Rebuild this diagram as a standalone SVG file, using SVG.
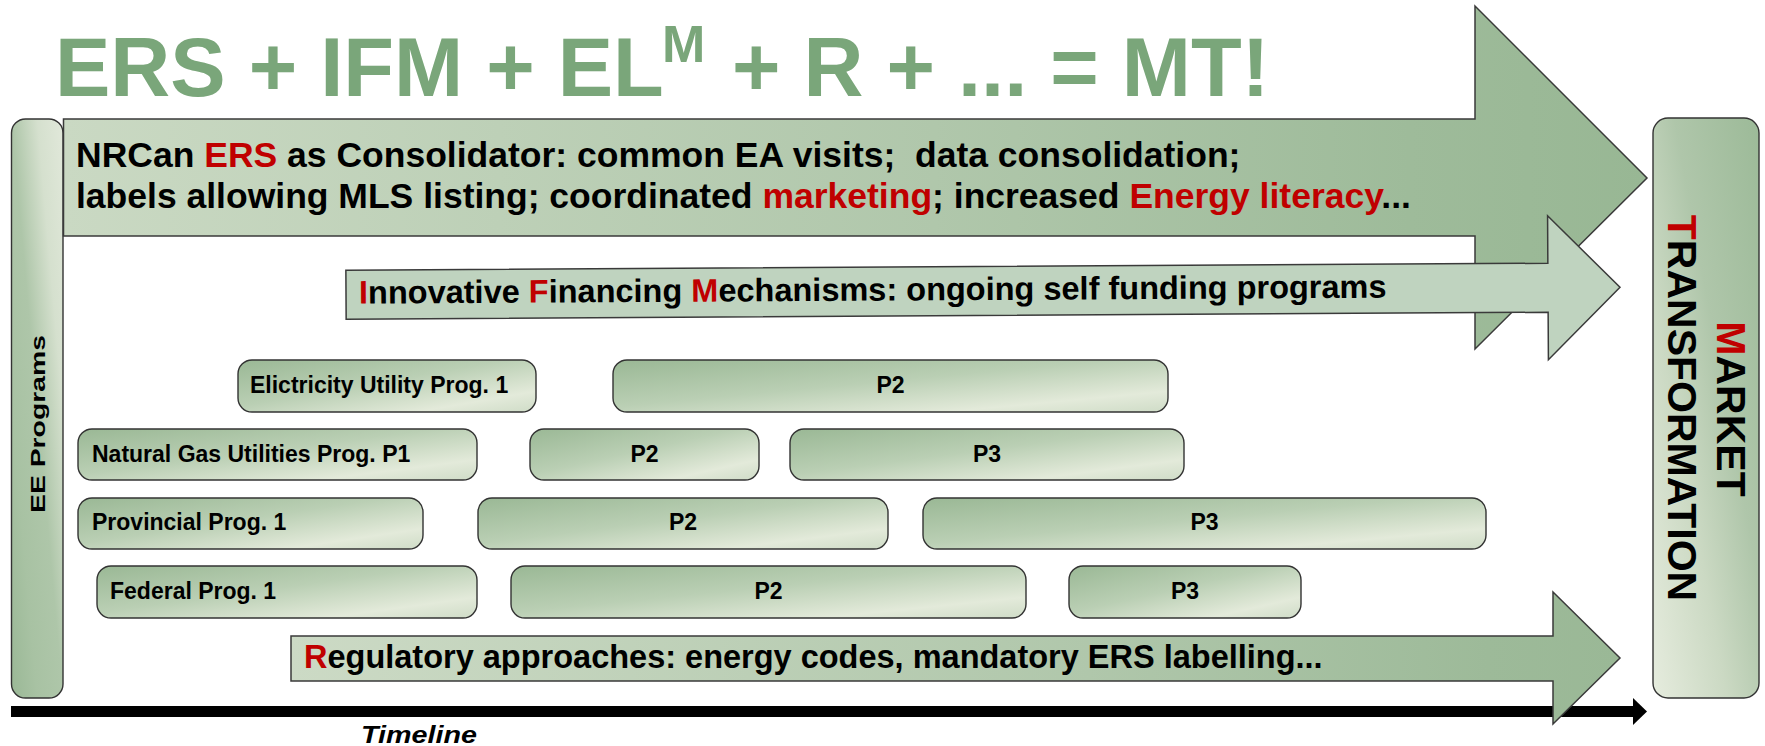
<svg xmlns="http://www.w3.org/2000/svg" width="1765" height="746" viewBox="0 0 1765 746">
  <defs>
    <linearGradient id="gBig" x1="0" y1="0" x2="1" y2="0">
      <stop offset="0" stop-color="#cad9c3"/>
      <stop offset="0.55" stop-color="#b0c7ab"/>
      <stop offset="0.85" stop-color="#9ebb9a"/>
      <stop offset="1" stop-color="#98b794"/>
    </linearGradient>
    <linearGradient id="gReg" x1="0" y1="0" x2="1" y2="0">
      <stop offset="0" stop-color="#ccdac5"/>
      <stop offset="0.6" stop-color="#b0c7ab"/>
      <stop offset="0.9" stop-color="#9dba99"/>
      <stop offset="1" stop-color="#9ab896"/>
    </linearGradient>
    <linearGradient id="gBox" x1="0" y1="0" x2="1" y2="1">
      <stop offset="0" stop-color="#9ab895"/>
      <stop offset="0.45" stop-color="#bacfb4"/>
      <stop offset="0.8" stop-color="#e3eada"/>
      <stop offset="1" stop-color="#cfdcc7"/>
    </linearGradient>
    <linearGradient id="gSide" x1="0" y1="1" x2="1" y2="0">
      <stop offset="0" stop-color="#9ab896"/>
      <stop offset="0.25" stop-color="#a8c2a3"/>
      <stop offset="0.5" stop-color="#aec6a9"/>
      <stop offset="0.75" stop-color="#d5e0ce"/>
      <stop offset="1" stop-color="#e1e8da"/>
    </linearGradient>
    <linearGradient id="gMarket" x1="0" y1="1" x2="1" y2="0">
      <stop offset="0" stop-color="#e6ecde"/>
      <stop offset="0.35" stop-color="#cbd9c3"/>
      <stop offset="0.6" stop-color="#afc6aa"/>
      <stop offset="1" stop-color="#9cba98"/>
    </linearGradient>
  </defs>
  <style>
    text { font-family: "Liberation Sans", Arial, Helvetica, sans-serif; font-weight: bold; fill: #000; }
    .title { fill: #7aa67a; font-size: 83px; }
    .red { fill: #c00000; }
    .lbl { font-size: 23px; }
    .mid { text-anchor: middle; }
    .box { fill: url(#gBox); stroke: #333; stroke-width: 1.4; }
    .arrow { stroke: #3a3a3a; stroke-width: 1.5; stroke-linejoin: miter; }
  </style>

  <!-- headline formula -->
  <g id="title">
    <text class="title" x="55" y="96">ERS + IFM + EL</text>
    <text class="title" x="662" y="62" style="font-size:52px">M</text>
    <text class="title" x="732" y="96">+ R + ... = MT!</text>
  </g>

  <!-- left side bar -->
  <g id="ee-programs">
    <rect x="11.5" y="119" width="51.5" height="579" rx="14" fill="url(#gSide)" stroke="#333" stroke-width="1.4"/>
    <text transform="translate(45,424) rotate(-90)" class="mid" style="font-size:20px" textLength="178" lengthAdjust="spacingAndGlyphs">EE Programs</text>
  </g>

  <!-- right side target -->
  <g id="market-transformation">
    <rect x="1653" y="118" width="106" height="580" rx="15" fill="url(#gMarket)" stroke="#333" stroke-width="1.4"/>
    <text transform="translate(1717,409) rotate(90)" class="mid" style="font-size:41px"><tspan class="red">M</tspan>ARKET</text>
    <text transform="translate(1668,408) rotate(90)" class="mid" style="font-size:41px"><tspan class="red">T</tspan>RANSFORMATION</text>
  </g>

  <!-- timeline axis -->
  <g id="timeline">
    <rect x="11" y="706" width="1622" height="11" fill="#000"/>
    <polygon points="1633,698 1647,711.5 1633,725" fill="#000"/>
    <text x="361" y="743" style="font-size:24px;font-style:italic" textLength="116" lengthAdjust="spacingAndGlyphs">Timeline</text>
  </g>

  <!-- broad arrows -->
  <g id="connectors">
    <g id="arrow-ers">
      <polygon class="arrow" fill="url(#gBig)" points="63.5,119 1475,119 1475,6 1647,178 1475,349 1475,236 63.5,236"/>
      <text x="76" y="167" style="font-size:35.5px" xml:space="preserve">NRCan <tspan class="red">ERS</tspan> as Consolidator: common EA visits;  data consolidation;</text>
      <text x="76" y="208" style="font-size:35.5px">labels allowing MLS listing; coordinated <tspan class="red">marketing</tspan>; increased <tspan class="red">Energy literacy</tspan>...</text>
    </g>
    <g id="arrow-ifm" transform="rotate(-0.33 983 291)">
      <polygon class="arrow" fill="#bfd3bf" points="346,266.5 1548,266.5 1548,219 1620,291 1548,363 1548,315.5 346,315.5"/>
      <text x="359" y="300" style="font-size:32.5px"><tspan class="red">I</tspan>nnovative <tspan class="red">F</tspan>inancing <tspan class="red">M</tspan>echanisms: ongoing self funding programs</text>
    </g>
    <g id="arrow-reg">
      <polygon class="arrow" fill="url(#gReg)" points="291,636 1553,636 1553,592 1620,658 1553,724 1553,681 291,681"/>
      <text x="304" y="668" style="font-size:32.5px"><tspan class="red">R</tspan>egulatory approaches: energy codes, mandatory ERS labelling...</text>
    </g>
  </g>

  <!-- programme bars -->
  <g id="elec-p1"><rect class="box" x="238" y="360" width="298" height="52" rx="14"/><text class="lbl" x="250" y="393">Elictricity Utility Prog. 1</text></g>
  <g id="elec-p2"><rect class="box" x="613" y="360" width="555" height="52" rx="14"/><text class="lbl mid" x="890.5" y="393">P2</text></g>

  <g id="gas-p1"><rect class="box" x="78" y="429" width="399" height="51" rx="14"/><text class="lbl" x="92" y="462">Natural Gas Utilities Prog. P1</text></g>
  <g id="gas-p2"><rect class="box" x="530" y="429" width="229" height="51" rx="14"/><text class="lbl mid" x="644.5" y="462">P2</text></g>
  <g id="gas-p3"><rect class="box" x="790" y="429" width="394" height="51" rx="14"/><text class="lbl mid" x="987" y="462">P3</text></g>

  <g id="prov-p1"><rect class="box" x="78" y="498" width="345" height="51" rx="14"/><text class="lbl" x="92" y="530">Provincial Prog. 1</text></g>
  <g id="prov-p2"><rect class="box" x="478" y="498" width="410" height="51" rx="14"/><text class="lbl mid" x="683" y="530">P2</text></g>
  <g id="prov-p3"><rect class="box" x="923" y="498" width="563" height="51" rx="14"/><text class="lbl mid" x="1204.5" y="530">P3</text></g>

  <g id="fed-p1"><rect class="box" x="97" y="566" width="380" height="52" rx="14"/><text class="lbl" x="110" y="599">Federal Prog. 1</text></g>
  <g id="fed-p2"><rect class="box" x="511" y="566" width="515" height="52" rx="14"/><text class="lbl mid" x="768.5" y="599">P2</text></g>
  <g id="fed-p3"><rect class="box" x="1069" y="566" width="232" height="52" rx="14"/><text class="lbl mid" x="1185" y="599">P3</text></g>
</svg>
